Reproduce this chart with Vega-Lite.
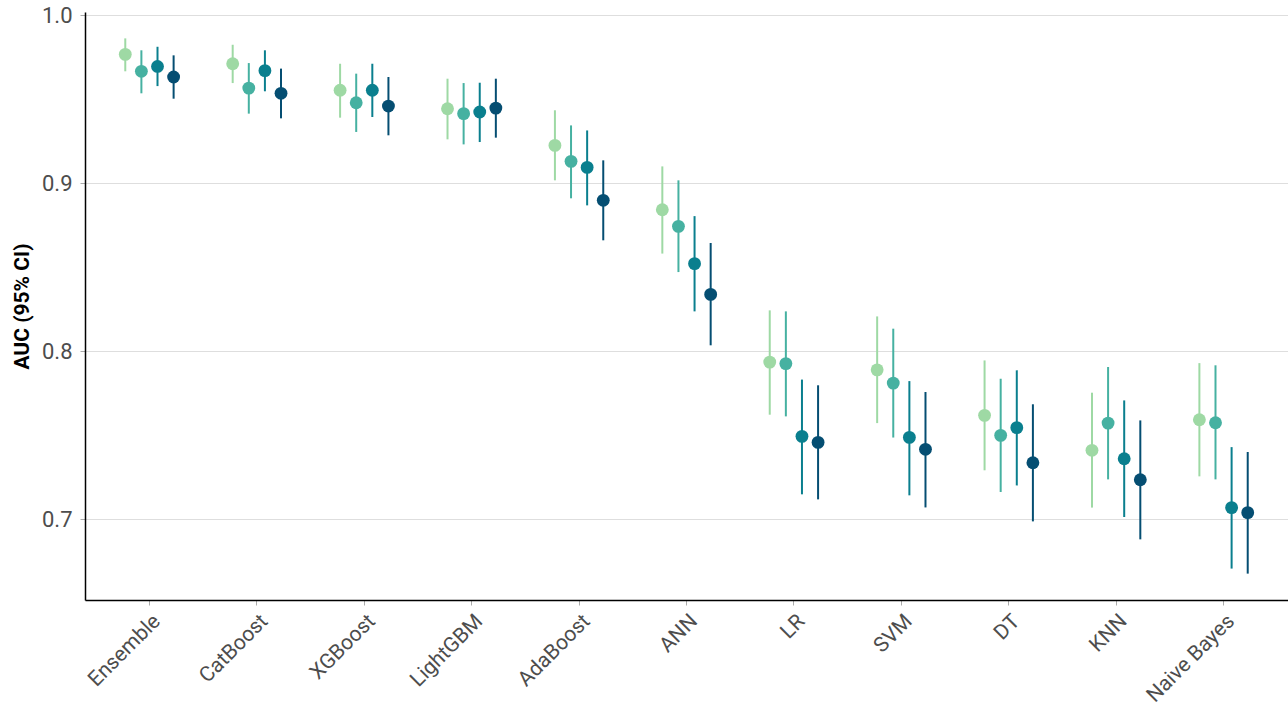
{
  "$schema": "https://vega.github.io/schema/vega-lite/v6.json",
  "width": 1203,
  "height": 588,
  "autosize": "none",
  "padding": {"left": 85, "top": 12, "right": 0, "bottom": 107},
  "background": "white",
  "data": {"values": [
    {"model": "Ensemble", "set": "S1", "auc": 0.9768, "lo": 0.9667, "hi": 0.9863},
    {"model": "Ensemble", "set": "S2", "auc": 0.9667, "lo": 0.9536, "hi": 0.9792},
    {"model": "Ensemble", "set": "S3", "auc": 0.9696, "lo": 0.9579, "hi": 0.9813},
    {"model": "Ensemble", "set": "S4", "auc": 0.9633, "lo": 0.9504, "hi": 0.9762},
    {"model": "CatBoost", "set": "S1", "auc": 0.9712, "lo": 0.9597, "hi": 0.9825},
    {"model": "CatBoost", "set": "S2", "auc": 0.9567, "lo": 0.9415, "hi": 0.9716},
    {"model": "CatBoost", "set": "S3", "auc": 0.9671, "lo": 0.9548, "hi": 0.9792},
    {"model": "CatBoost", "set": "S4", "auc": 0.9536, "lo": 0.9387, "hi": 0.9683},
    {"model": "XGBoost", "set": "S1", "auc": 0.9554, "lo": 0.9391, "hi": 0.9712},
    {"model": "XGBoost", "set": "S2", "auc": 0.948, "lo": 0.9306, "hi": 0.9653},
    {"model": "XGBoost", "set": "S3", "auc": 0.9554, "lo": 0.9395, "hi": 0.9712},
    {"model": "XGBoost", "set": "S4", "auc": 0.946, "lo": 0.9286, "hi": 0.9633},
    {"model": "LightGBM", "set": "S1", "auc": 0.9444, "lo": 0.9262, "hi": 0.9623},
    {"model": "LightGBM", "set": "S2", "auc": 0.9415, "lo": 0.9232, "hi": 0.9597},
    {"model": "LightGBM", "set": "S3", "auc": 0.9425, "lo": 0.9246, "hi": 0.9599},
    {"model": "LightGBM", "set": "S4", "auc": 0.9448, "lo": 0.9272, "hi": 0.9623},
    {"model": "AdaBoost", "set": "S1", "auc": 0.9226, "lo": 0.9018, "hi": 0.9435},
    {"model": "AdaBoost", "set": "S2", "auc": 0.9131, "lo": 0.8911, "hi": 0.9345},
    {"model": "AdaBoost", "set": "S3", "auc": 0.9095, "lo": 0.8869, "hi": 0.9315},
    {"model": "AdaBoost", "set": "S4", "auc": 0.8899, "lo": 0.8661, "hi": 0.9137},
    {"model": "ANN", "set": "S1", "auc": 0.8843, "lo": 0.8582, "hi": 0.9101},
    {"model": "ANN", "set": "S2", "auc": 0.8744, "lo": 0.8472, "hi": 0.9018},
    {"model": "ANN", "set": "S3", "auc": 0.8522, "lo": 0.8238, "hi": 0.8805},
    {"model": "ANN", "set": "S4", "auc": 0.8339, "lo": 0.8036, "hi": 0.8645},
    {"model": "LR", "set": "S1", "auc": 0.7936, "lo": 0.7623, "hi": 0.8244},
    {"model": "LR", "set": "S2", "auc": 0.7927, "lo": 0.7613, "hi": 0.8238},
    {"model": "LR", "set": "S3", "auc": 0.7494, "lo": 0.7149, "hi": 0.7832},
    {"model": "LR", "set": "S4", "auc": 0.7458, "lo": 0.7119, "hi": 0.7798},
    {"model": "SVM", "set": "S1", "auc": 0.789, "lo": 0.7573, "hi": 0.8208},
    {"model": "SVM", "set": "S2", "auc": 0.7811, "lo": 0.7487, "hi": 0.8135},
    {"model": "SVM", "set": "S3", "auc": 0.7488, "lo": 0.7143, "hi": 0.7823},
    {"model": "SVM", "set": "S4", "auc": 0.7417, "lo": 0.7071, "hi": 0.7758},
    {"model": "DT", "set": "S1", "auc": 0.7619, "lo": 0.7292, "hi": 0.7946},
    {"model": "DT", "set": "S2", "auc": 0.75, "lo": 0.7163, "hi": 0.7837},
    {"model": "DT", "set": "S3", "auc": 0.7546, "lo": 0.7202, "hi": 0.7887},
    {"model": "DT", "set": "S4", "auc": 0.7337, "lo": 0.6988, "hi": 0.7685},
    {"model": "KNN", "set": "S1", "auc": 0.7411, "lo": 0.707, "hi": 0.7754},
    {"model": "KNN", "set": "S2", "auc": 0.7573, "lo": 0.7238, "hi": 0.7907},
    {"model": "KNN", "set": "S3", "auc": 0.7361, "lo": 0.7014, "hi": 0.7708},
    {"model": "KNN", "set": "S4", "auc": 0.7236, "lo": 0.6881, "hi": 0.7589},
    {"model": "Naive Bayes", "set": "S1", "auc": 0.7593, "lo": 0.7256, "hi": 0.793},
    {"model": "Naive Bayes", "set": "S2", "auc": 0.7575, "lo": 0.7238, "hi": 0.7917},
    {"model": "Naive Bayes", "set": "S3", "auc": 0.707, "lo": 0.6707, "hi": 0.743},
    {"model": "Naive Bayes", "set": "S4", "auc": 0.704, "lo": 0.6677, "hi": 0.7401}
  ]},
  "encoding": {
    "x": {
      "field": "model", "type": "nominal",
      "sort": ["Ensemble", "CatBoost", "XGBoost", "LightGBM", "AdaBoost", "ANN", "LR", "SVM", "DT", "KNN", "Naive Bayes"],
      "scale": {"type": "band", "paddingInner": 0.4, "paddingOuter": 0.3},
      "axis": {
        "title": null, "labelAngle": -45, "labelAlign": "right", "labelBaseline": "top",
        "labelFontSize": 21, "labelColor": "#4d4d4d", "labelPadding": 5,
        "domainColor": "black", "domainWidth": 1.5, "tickColor": "#aaaaaa", "tickSize": 5, "tickWidth": 1,
        "grid": false
      }
    },
    "xOffset": {"field": "set", "type": "nominal", "sort": ["S1", "S2", "S3", "S4"], "scale": {"paddingInner": 0, "paddingOuter": 0}},
    "color": {"field": "set", "type": "nominal", "sort": ["S1", "S2", "S3", "S4"], "scale": {"range": ["#9ed9a4", "#46b1a1", "#0a7f8e", "#054e72"]}, "legend": null}
  },
  "layer": [
    {
      "mark": {"type": "rule", "strokeWidth": 2},
      "encoding": {
        "y": {
          "field": "lo", "type": "quantitative",
          "scale": {"domain": [0.652, 1.002], "nice": false, "zero": false},
          "axis": {
            "title": "AUC (95% CI)", "values": [0.7, 0.8, 0.9, 1.0], "format": ".1f",
            "labelFontSize": 22, "labelColor": "#4d4d4d", "labelPadding": 8,
            "titleFontSize": 21, "titleFontWeight": "bold", "titleColor": "black", "titlePadding": 9,
            "domainColor": "black", "domainWidth": 1.5, "tickColor": "#aaaaaa", "tickSize": 5, "tickWidth": 1,
            "grid": true, "gridColor": "#dedede", "gridWidth": 1
          }
        },
        "y2": {"field": "hi"}
      }
    },
    {
      "mark": {"type": "point", "filled": true, "size": 165, "opacity": 1},
      "encoding": {"y": {"field": "auc", "type": "quantitative"}}
    }
  ],
  "config": {
    "view": {"stroke": null},
    "font": "Roboto",
    "axis": {"labelFont": "Roboto", "titleFont": "Roboto"}
  }
}
